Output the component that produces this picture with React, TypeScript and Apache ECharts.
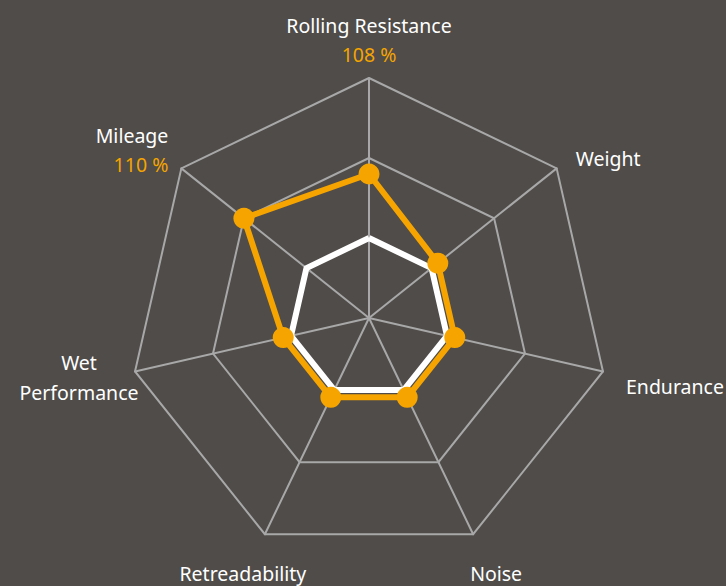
import React, { useEffect, useRef } from "react";
import * as echarts from "echarts";

// ---- data ----
const indicatorNames = [
  "Rolling Resistance",
  "Weight",
  "Endurance",
  "Noise",
  "Retreadability",
  "Wet Performance",
  "Mileage",
];
const referenceValues = [100, 100, 100, 100, 100, 100, 100];
const tyreValues = [108, 101, 101, 101, 101, 101, 110];
const valueLabelFor = ["Rolling Resistance", "Mileage"];
const axisMin = 90;
const axisMax = 120;

// ---- layout / style ----
const W = 726;
const H = 586;
const CX = 369;
const CY = 318;
const R = 240;
const BG = "#4f4c49";
const GRID = "#a8a8a8";
const ORANGE = "#f5a400";
const FONT = '19.5px "Noto Sans"';

// label offsets relative to each axis end (same order as indicatorNames, clockwise from top)
const labelLayout: { dx: number; dy: number; align: string; lines?: string[] }[] = [
  { dx: 0, dy: -53, align: "center" },
  { dx: 19, dy: -10, align: "left" },
  { dx: 23, dy: 15, align: "left" },
  { dx: 23, dy: 39, align: "center" },
  { dx: -22, dy: 39, align: "center" },
  { dx: -56, dy: 6, align: "center", lines: ["Wet", "Performance"] },
  { dx: -13, dy: -33, align: "right" },
];

// ECharts lays radar indicators counter-clockwise; the reference runs clockwise
const clockwiseOrder = (arr: any[]) => [arr[0], ...arr.slice(1).reverse()];

export default function App() {
  const ref = useRef<HTMLDivElement>(null);
  useEffect(() => {
    if (!ref.current) return;
    const chart = echarts.init(ref.current, null, { renderer: "svg" });
    const n = indicatorNames.length;
    const graphics: any[] = [];
    indicatorNames.forEach((name, i) => {
      const th = (i * 2 * Math.PI) / n;
      const vx = CX + R * Math.sin(th);
      const vy = CY - R * Math.cos(th);
      const L = labelLayout[i];
      const text = L.lines ? L.lines.join("\n") : name;
      const style: any = {
        text,
        fill: "#ffffff",
        font: FONT,
        align: L.align,
        verticalAlign: "middle",
        textAlign: L.align,
        textVerticalAlign: "middle",
      };
      if (L.lines) style.lineHeight = 30;
      graphics.push({
        type: "text",
        x: vx + L.dx,
        y: vy + L.dy,
        silent: true,
        style,
      });
      if (valueLabelFor.includes(name)) {
        graphics.push({
          type: "text",
          x: vx + L.dx,
          y: vy + L.dy + 29,
          silent: true,
          style: {
            text: `${tyreValues[i]} %`,
            fill: ORANGE,
            font: FONT,
            align: L.align,
            verticalAlign: "middle",
            textAlign: L.align,
            textVerticalAlign: "middle",
          },
        });
      }
    });

    chart.setOption({
      animation: false,
      backgroundColor: BG,
      radar: {
        center: [CX, CY],
        radius: R,
        startAngle: 90,
        shape: "polygon",
        splitNumber: 3,
        indicator: clockwiseOrder(indicatorNames).map((name) => ({
          name,
          min: axisMin,
          max: axisMax,
        })),
        axisName: { show: false },
        axisLine: { show: true, lineStyle: { color: GRID, width: 2 } },
        splitLine: { show: true, lineStyle: { color: GRID, width: 2 } },
        splitArea: { show: false },
        axisTick: { show: false },
        axisLabel: { show: false },
      },
      graphic: graphics,
      series: [
        {
          type: "radar",
          symbol: "none",
          data: [
            {
              name: "Reference",
              value: clockwiseOrder(referenceValues),
              lineStyle: { color: "#ffffff", width: 6 },
              itemStyle: { color: "#ffffff" },
            },
          ],
        },
        {
          type: "radar",
          symbol: "circle",
          symbolSize: 21,
          data: [
            {
              name: "Tyre",
              value: clockwiseOrder(tyreValues),
              lineStyle: { color: ORANGE, width: 6 },
              itemStyle: { color: ORANGE },
            },
          ],
        },
      ],
    });
    return () => chart.dispose();
  }, []);
  return (
    <div
      ref={ref}
      style={{ position: "fixed", left: 0, top: 0, width: W, height: H }}
    />
  );
}
